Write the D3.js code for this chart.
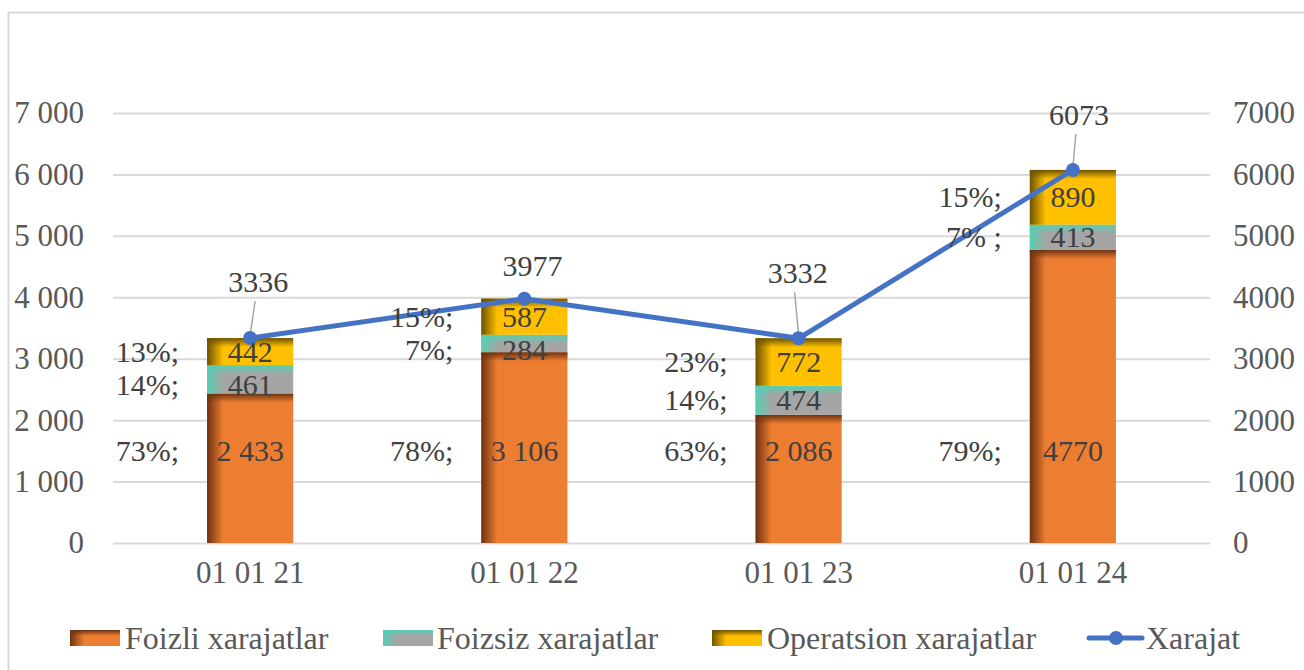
<!DOCTYPE html>
<html>
<head>
<meta charset="utf-8">
<script src="https://cdn.jsdelivr.net/npm/d3@7"></script>
<style>
  body { margin: 0; background: #ffffff; }
  #chart svg text { font-family: "Liberation Serif", serif !important; }
</style>
</head>
<body>
<div id="chart"></div>
<script>

// Chart data :
var categories = ["01 01 21", "01 01 22", "01 01 23", "01 01 24"];
var foizli     = [2433, 3106, 2086, 4770];
var foizsiz    = [461, 284, 474, 413];
var operatsion = [442, 587, 772, 890];
var xarajat    = [3336, 3977, 3332, 6073];

var foizliLabels     = ["2 433", "3 106", "2 086", "4770"];
var foizliPct        = ["73%;", "78%;", "63%;", "79%;"];
var foizsizPct       = ["14%;", "7%;", "14%;", "7% ;"];
var operatsionPct    = ["13%;", "15%;", "23%;", "15%;"];

var yTicks = [0, 1000, 2000, 3000, 4000, 5000, 6000, 7000];
var seriesNames = ["Foizli xarajatlar", "Foizsiz xarajatlar", "Operatsion xarajatlar", "Xarajat"];

// Layout :
var width = 1304, height = 670;
var plot = { left: 113, right: 1210, top: 113, bottom: 543 };
var FONT = "Liberation Serif";

var svg = d3.select("#chart").append("svg")
    .attr("width", width)
    .attr("height", height);

// outer frame
svg.append("rect")
   .attr("x", 8.5).attr("y", 12.5)
   .attr("width", width + 20).attr("height", height + 20)
   .style("fill", "none")
   .style("stroke", "#d9d9d9")
   .style("stroke-width", 2);

var x = d3.scaleBand()
    .domain(categories)
    .range([plot.left, plot.right])
    .paddingInner(0.686)
    .paddingOuter(0.343);

var y = d3.scaleLinear().domain([0, 7000]).range([plot.bottom, plot.top]);
var yRight = d3.scaleLinear().domain([0, 7000]).range([plot.bottom, plot.top]);

var spaceFmt = d3.formatLocale({ decimal: ",", thousands: " ", grouping: [3], currency: ["", ""] }).format(",d");

// gridlines + left axis labels
var gridAxis = d3.axisLeft(y).tickValues(yTicks).tickSize(-(plot.right - plot.left)).tickFormat(spaceFmt).tickPadding(29);
var gLeft = svg.append("g").attr("transform", "translate(" + plot.left + ",0)").call(gridAxis);
gLeft.select(".domain").remove();
gLeft.selectAll(".tick line").style("stroke", "#d9d9d9").style("stroke-width", 2);

// right axis labels
var gRight = svg.append("g").attr("transform", "translate(" + plot.right + ",0)")
    .call(d3.axisRight(yRight).tickValues(yTicks).tickSize(0).tickPadding(23).tickFormat(d3.format("d")));
gRight.select(".domain").remove();

// category axis labels
var gX = svg.append("g").attr("transform", "translate(0," + plot.bottom + ")")
    .call(d3.axisBottom(x).tickSize(0).tickPadding(18));
gX.select(".domain").remove();

[gLeft, gRight, gX].forEach(function(g) {
  g.attr("font-family", FONT).attr("font-size", 31);
  g.selectAll(".tick text")
   .attr("font-family", FONT)
   .attr("font-size", 31)
   .attr("fill", "#595959");
});

// Gradient definitions : each series gets an inner "shadow" on its left and top edges.
var series = [
  { name: seriesNames[0], values: foizli,     base: "#ed7d31", shade: "#6e3210", pct: foizliPct },
  { name: seriesNames[1], values: foizsiz,    base: "#a5a5a5", shade: "#55cfb4", pct: foizsizPct },
  { name: seriesNames[2], values: operatsion, base: "#ffc000", shade: "#6e5200", pct: operatsionPct }
];

var defs = svg.append("defs");
series.forEach(function(s, k) {
  var gl = defs.append("linearGradient").attr("id", "gradL" + k)
      .attr("x1", 0).attr("y1", 0).attr("x2", 1).attr("y2", 0);
  gl.append("stop").attr("offset", 0).attr("stop-color", s.shade).attr("stop-opacity", 1);
  gl.append("stop").attr("offset", 1).attr("stop-color", s.shade).attr("stop-opacity", 0);
  var gt = defs.append("linearGradient").attr("id", "gradT" + k)
      .attr("x1", 0).attr("y1", 0).attr("x2", 0).attr("y2", 1);
  gt.append("stop").attr("offset", 0).attr("stop-color", s.shade).attr("stop-opacity", 1);
  gt.append("stop").attr("offset", 1).attr("stop-color", s.shade).attr("stop-opacity", 0);
});

// Stack the bars :
var stackRows = categories.map(function(c, i) {
  return { cat: c, s0: foizli[i], s1: foizsiz[i], s2: operatsion[i] };
});
var stacked = d3.stack().keys(["s0", "s1", "s2"])(stackRows);

var shadeW = 16, shadeH = 9;
stacked.forEach(function(layer, k) {
  var g = svg.append("g").attr("class", "series-" + k);
  layer.forEach(function(d, i) {
    var bx = x(categories[i]);
    var by = y(d[1]);
    var bh = y(d[0]) - y(d[1]);
    var bw = x.bandwidth();
    g.append("rect").attr("x", bx).attr("y", by).attr("width", bw).attr("height", bh)
     .style("fill", series[k].base);
    g.append("rect").attr("x", bx).attr("y", by).attr("width", shadeW).attr("height", bh)
     .style("fill", "url(#gradL" + k + ")");
    g.append("rect").attr("x", bx).attr("y", by).attr("width", bw).attr("height", Math.min(shadeH, bh))
     .style("fill", "url(#gradT" + k + ")");
  });
});

// Line series :
var lineX = function(i) { return x(categories[i]) + x.bandwidth() / 2; };
var line = d3.line().x(function(d, i) { return lineX(i); }).y(function(d) { return yRight(d); });

// leader lines for the line labels (drawn under the line)
var labelNudge = [[8, -56], [8, -33], [-1, -65], [6, -55]];
var gLead = svg.append("g");
xarajat.forEach(function(v, i) {
  var px = lineX(i), py = yRight(v);
  var lx = px + labelNudge[i][0], ly = py + labelNudge[i][1];
  if (labelNudge[i][1] < -40) {
    gLead.append("line")
         .attr("x1", lx - 3).attr("y1", ly + 19)
         .attr("x2", px).attr("y2", py - 3)
         .style("stroke", "#a6a6a6").style("stroke-width", 1.5);
  }
});

svg.append("path").datum(xarajat)
   .attr("d", line)
   .style("fill", "none")
   .style("stroke", "#4472c4")
   .style("stroke-width", 5)
   .style("stroke-linejoin", "round")
   .style("stroke-linecap", "round");

svg.append("g").selectAll("circle").data(xarajat).enter().append("circle")
   .attr("cx", function(d, i) { return lineX(i); })
   .attr("cy", function(d) { return yRight(d); })
   .attr("r", 7)
   .style("fill", "#4472c4");

// Data labels : base segment labels sit low, the two small ones are kept apart.
var minGap = 33;
var gLab = svg.append("g");
function label(xp, yp, anchor, txt) {
  return gLab.append("text")
      .attr("x", xp).attr("y", yp)
      .attr("text-anchor", anchor)
      .attr("font-family", FONT)
      .attr("font-size", 30)
      .attr("fill", "#404040")
      .text(txt);
}

categories.forEach(function(c, i) {
  var centers = stacked.map(function(layer, k) {
    var d = layer[i];
    return (k === 0) ? y(1500) : y((d[0] + d[1]) / 2);
  });
  if (centers[1] - centers[2] < minGap) centers[1] = centers[2] + minGap;

  stacked.forEach(function(layer, k) {
    var d = layer[i];
    var cx = x(c) + x.bandwidth() / 2;
    label(cx, centers[k] + 10, "middle", k === 0 ? foizliLabels[i] : d3.format("d")(d[1] - d[0]));
    label(x(c) - 28, centers[k] + 10, "end", series[k].pct[i]);
  });
});

xarajat.forEach(function(v, i) {
  label(lineX(i) + labelNudge[i][0], yRight(v) + labelNudge[i][1] + 10, "middle", d3.format("d")(v));
});

// Legend :
var legendY = 638;
var legendItems = [
  { k: 0, sx: 70,  tx: 125 },
  { k: 1, sx: 383, tx: 437 },
  { k: 2, sx: 712, tx: 767 }
];
var gLeg = svg.append("g");
legendItems.forEach(function(it) {
  var s = series[it.k];
  gLeg.append("rect").attr("x", it.sx).attr("y", legendY - 8).attr("width", 50).attr("height", 16).style("fill", s.base);
  gLeg.append("rect").attr("x", it.sx).attr("y", legendY - 8).attr("width", 14).attr("height", 16).style("fill", "url(#gradL" + it.k + ")");
  gLeg.append("rect").attr("x", it.sx).attr("y", legendY - 8).attr("width", 50).attr("height", 6).style("fill", "url(#gradT" + it.k + ")");
  gLeg.append("text").attr("x", it.tx).attr("y", legendY + 11)
      .attr("font-family", FONT).attr("font-size", 32).attr("fill", "#595959").text(s.name);
});
gLeg.append("line").attr("x1", 1089).attr("x2", 1142).attr("y1", legendY).attr("y2", legendY)
    .style("stroke", "#4472c4").style("stroke-width", 5).style("stroke-linecap", "round");
gLeg.append("circle").attr("cx", 1116).attr("cy", legendY).attr("r", 7).style("fill", "#4472c4");
gLeg.append("text").attr("x", 1146).attr("y", legendY + 11)
    .attr("font-family", FONT).attr("font-size", 32).attr("fill", "#595959").text(seriesNames[3]);

</script>
</body>
</html>
